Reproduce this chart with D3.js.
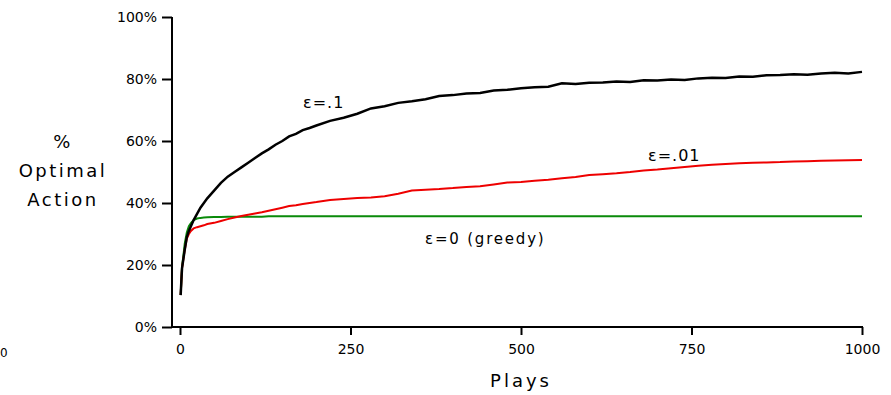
<!DOCTYPE html>
<html>
<head>
<meta charset="utf-8">
<script src="https://cdn.jsdelivr.net/npm/d3@7"></script>
<style>
  html, body { margin: 0; padding: 0; background: #fff; }
  svg text { font-family: "DejaVu Sans", sans-serif; fill: #000; }
</style>
</head>
<body>
<svg id="chart" width="891" height="395"></svg>
<script>
const plays = [1, 2, 3, 5, 7, 10, 13, 16, 20, 25, 30, 35, 40, 50, 60, 70, 80, 90,
  100, 110, 120, 130, 140, 150, 160, 170, 180, 190, 200, 220, 240, 260, 280, 300,
  320, 340, 360, 380, 400, 420, 440, 460, 480, 500, 520, 540, 560, 580, 600, 620,
  640, 660, 680, 700, 720, 740, 760, 780, 800, 820, 840, 860, 880, 900, 920, 940,
  960, 980, 1000];

// % optimal action, eps = 0.1
const eps10 = [10.3, 15, 19, 22, 25, 29, 31, 32.5, 34.5, 36.5, 38.5, 40, 41.5, 44, 46.5, 48.5, 50, 51.5,
  53, 54.5, 56, 57.3, 58.8, 60, 61.5, 62.3, 63.5, 64.2, 65, 66.5, 67.5, 68.8, 70.5, 71.2,
  72.3, 72.8, 73.5, 74.5, 74.8, 75.3, 75.5, 76.3, 76.5, 77, 77.3, 77.5, 78.6, 78.4, 78.8, 78.9,
  79.2, 79, 79.6, 79.5, 79.8, 79.7, 80.2, 80.4, 80.3, 80.8, 80.7, 81.2, 81.3, 81.5, 81.4, 81.8,
  82, 81.8, 82.3];

// eps = 0.01
const eps01 = [10.3, 15, 19, 22, 25, 28.5, 30, 31, 31.8, 32.2, 32.5, 32.8, 33.2, 33.6, 34.2, 34.8, 35.3, 35.8,
  36.2, 36.6, 37, 37.5, 38, 38.5, 39, 39.3, 39.7, 40, 40.3, 41, 41.3, 41.6, 41.8, 42.2,
  43, 44, 44.3, 44.5, 44.8, 45.2, 45.4, 46, 46.6, 46.8, 47.2, 47.5, 48, 48.4, 49, 49.3,
  49.6, 50, 50.5, 50.8, 51.2, 51.6, 52, 52.3, 52.6, 52.8, 53, 53.1, 53.2, 53.4, 53.5, 53.6,
  53.7, 53.8, 53.9];

// eps = 0 (greedy)
const eps0 = [10.3, 15, 19.5, 23, 27, 30.5, 32.5, 33.5, 34.5, 35, 35.2, 35.3, 35.4, 35.5, 35.5, 35.6, 35.6, 35.6,
  35.6, 35.6, 35.6, 35.7, 35.7, 35.7, 35.7, 35.7, 35.7, 35.7, 35.7, 35.7, 35.7, 35.7, 35.7, 35.7,
  35.7, 35.7, 35.7, 35.7, 35.7, 35.7, 35.7, 35.7, 35.7, 35.7, 35.7, 35.7, 35.7, 35.7, 35.7, 35.7,
  35.7, 35.7, 35.7, 35.7, 35.7, 35.7, 35.7, 35.7, 35.7, 35.7, 35.7, 35.7, 35.7, 35.7, 35.7, 35.7,
  35.7, 35.7, 35.7];

const xTicks = [0, 250, 500, 750, 1000];
const yTicks = [0, 20, 40, 60, 80, 100];

const svg = d3.select("#chart");

const x = d3.scaleLinear().domain([0, 1000]).range([180, 862]);
const y = d3.scaleLinear().domain([0, 100]).range([327, 17]);
const axisX = 172;

// y axis
const gy = svg.append("g")
  .attr("transform", `translate(${axisX},0)`)
  .call(d3.axisLeft(y).tickValues(yTicks).tickFormat(d => d + "%").tickSize(10).tickPadding(5).tickSizeOuter(0));
gy.select(".domain").remove();
gy.selectAll(".tick line").attr("stroke", "#000").attr("stroke-width", 2);
gy.selectAll(".tick text").style("font-size", "14px").attr("fill", "#000");

// x axis
const gx = svg.append("g")
  .attr("transform", `translate(0,${y(0)})`)
  .call(d3.axisBottom(x).tickValues(xTicks).tickFormat(d3.format("d")).tickSize(8).tickPadding(9).tickSizeOuter(0));
gx.select(".domain").remove();
gx.selectAll(".tick line").attr("stroke", "#000").attr("stroke-width", 2);
gx.selectAll(".tick text").style("font-size", "14px").attr("fill", "#000");

// axis lines
svg.append("line")
  .attr("x1", axisX).attr("x2", axisX).attr("y1", y(100)).attr("y2", y(0) + 1)
  .attr("stroke", "#000").attr("stroke-width", 2);
svg.append("line")
  .attr("x1", axisX - 1).attr("x2", x(1000) + 1).attr("y1", y(0)).attr("y2", y(0))
  .attr("stroke", "#000").attr("stroke-width", 2);

// curves
const line = vals => d3.line()
  .x((d, i) => x(plays[i]))
  .y(d => y(d))(vals);

svg.append("path").attr("d", line(eps0)).attr("fill", "none").attr("stroke", "#0a8a0a").attr("stroke-width", 2);
svg.append("path").attr("d", line(eps01)).attr("fill", "none").attr("stroke", "#ee0000").attr("stroke-width", 2);
svg.append("path").attr("d", line(eps10)).attr("fill", "none").attr("stroke", "#000").attr("stroke-width", 2.5);

// curve labels
svg.append("text").attr("x", 303).attr("y", 108).style("font-size", "16px").style("letter-spacing", "1px").text("ε=.1");
svg.append("text").attr("x", 648).attr("y", 161).style("font-size", "16px").style("letter-spacing", "1px").text("ε=.01");
svg.append("text").attr("x", 425).attr("y", 244).style("font-size", "15px").style("letter-spacing", "1.8px").text("ε=0 (greedy)");

// axis titles
svg.append("text").attr("x", 521).attr("y", 387).attr("text-anchor", "middle")
  .style("font-size", "18px").style("letter-spacing", "3px").text("Plays");

const yTitle = svg.append("text").attr("text-anchor", "middle").style("font-size", "18px").style("letter-spacing", "2.5px");
["%", "Optimal", "Action"].forEach((t, i) => {
  yTitle.append("tspan").attr("x", 63).attr("y", 148 + i * 29).text(t);
});

// stray label at the left edge
svg.append("text").attr("x", 0).attr("y", 357).style("font-size", "12px").text("0");
</script>
</body>
</html>
